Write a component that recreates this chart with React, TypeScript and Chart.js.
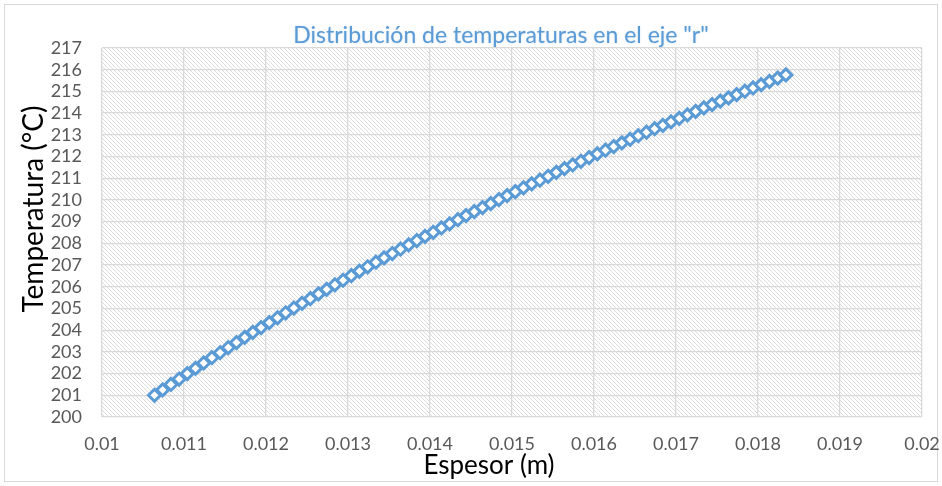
import { useEffect, useRef } from 'react';
import { Chart, registerables } from 'chart.js';

Chart.register(...registerables);

const espesor = [
  0.01064, 0.01074, 0.01084, 0.01094, 0.01104, 0.01114, 0.01124, 0.01134, 0.01144, 0.01154,
  0.01164, 0.01174, 0.01184, 0.01194, 0.01204, 0.01214, 0.01224, 0.01234, 0.01244, 0.01254,
  0.01264, 0.01274, 0.01284, 0.01294, 0.01304, 0.01314, 0.01324, 0.01334, 0.01344, 0.01354,
  0.01364, 0.01374, 0.01384, 0.01394, 0.01404, 0.01414, 0.01424, 0.01434, 0.01444, 0.01454,
  0.01464, 0.01474, 0.01484, 0.01494, 0.01504, 0.01514, 0.01524, 0.01534, 0.01544, 0.01554,
  0.01564, 0.01574, 0.01584, 0.01594, 0.01604, 0.01614, 0.01624, 0.01634, 0.01644, 0.01654,
  0.01664, 0.01674, 0.01684, 0.01694, 0.01704, 0.01714, 0.01724, 0.01734, 0.01744, 0.01754,
  0.01764, 0.01774, 0.01784, 0.01794, 0.01804, 0.01814, 0.01824, 0.01834,
];

const temperatura = [
  201.0, 201.25, 201.5, 201.75, 202.0, 202.24, 202.49, 202.73, 202.96, 203.2,
  203.43, 203.67, 203.9, 204.12, 204.35, 204.57, 204.8, 205.02, 205.24, 205.45,
  205.67, 205.88, 206.09, 206.3, 206.51, 206.72, 206.92, 207.13, 207.33, 207.53,
  207.73, 207.93, 208.13, 208.32, 208.51, 208.71, 208.9, 209.09, 209.28, 209.46,
  209.65, 209.83, 210.02, 210.2, 210.38, 210.56, 210.74, 210.91, 211.09, 211.27,
  211.44, 211.61, 211.78, 211.95, 212.12, 212.29, 212.46, 212.63, 212.79, 212.96,
  213.12, 213.28, 213.44, 213.6, 213.76, 213.92, 214.08, 214.24, 214.39, 214.55,
  214.7, 214.85, 215.01, 215.16, 215.31, 215.46, 215.61, 215.76,
];

const xTicks = [0.01, 0.011, 0.012, 0.013, 0.014, 0.015, 0.016, 0.017, 0.018, 0.019, 0.02];
const xTickLabels = ['0.01', '0.011', '0.012', '0.013', '0.014', '0.015', '0.016', '0.017', '0.018', '0.019', '0.02'];
const yTicks = [200, 201, 202, 203, 204, 205, 206, 207, 208, 209, 210, 211, 212, 213, 214, 215, 216, 217];
const yTickLabels = yTicks.map((v) => String(v));

const chartTitle = 'Distribución de temperaturas en el eje "r"';
const xTitle = 'Espesor (m)';
const yTitle = 'Temperatura (°C)';

const FONT = 'Lato, "Noto Sans", sans-serif';

export default function App() {
  const ref = useRef<HTMLCanvasElement | null>(null);

  useEffect(() => {
    const canvas = ref.current;
    if (!canvas) return;

    const tile = document.createElement('canvas');
    tile.width = 4;
    tile.height = 4;
    const t = tile.getContext('2d')!;
    t.fillStyle = '#ffffff';
    t.fillRect(0, 0, 4, 4);
    t.fillStyle = '#dcdcdc';
    for (let i = 0; i < 4; i++) t.fillRect(i, i, 1, 1);

    const decor = {
      id: 'decor',
      beforeDraw(chart: any) {
        const ctx = chart.ctx as CanvasRenderingContext2D;
        const a = chart.chartArea;
        ctx.save();
        ctx.fillStyle = '#ffffff';
        ctx.fillRect(0, 0, chart.width, chart.height);
        ctx.strokeStyle = '#d9d9d9';
        ctx.lineWidth = 1;
        ctx.strokeRect(4.5, 4.5, chart.width - 9, chart.height - 9);
        const pat = ctx.createPattern(tile, 'repeat');
        if (pat) {
          ctx.fillStyle = pat;
          ctx.fillRect(a.left, a.top, a.right - a.left, a.bottom - a.top);
        }
        ctx.restore();
      },
      afterDraw(chart: any) {
        const ctx = chart.ctx as CanvasRenderingContext2D;
        ctx.save();
        ctx.textAlign = 'center';
        ctx.textBaseline = 'middle';
        ctx.fillStyle = '#5B9BD5';
        ctx.font = `23px ${FONT}`;
        ctx.shadowColor = 'rgba(91,155,213,0.35)';
        ctx.shadowBlur = 2;
        ctx.fillText(chartTitle, 501, 36);
        ctx.shadowBlur = 0;
        ctx.shadowColor = 'transparent';
        ctx.fillStyle = '#000000';
        ctx.font = `26px ${FONT}`;
        ctx.fillText(xTitle, 489, 466);
        ctx.font = `28px ${FONT}`;
        ctx.translate(34, 209);
        ctx.rotate(-Math.PI / 2);
        ctx.fillText(yTitle, 0, 0);
        ctx.restore();
      },
    };

    const chart = new Chart(canvas, {
      type: 'scatter',
      data: {
        datasets: [
          {
            label: 'Temperatura',
            data: espesor.map((x, i) => ({ x, y: temperatura[i] })),
            showLine: false,
            pointStyle: 'rectRot',
            pointRadius: 6,
            pointHoverRadius: 6,
            pointBorderWidth: 3,
            borderColor: '#5B9BD5',
            backgroundColor: '#ffffff',
          },
        ],
      },
      options: {
        responsive: false,
        animation: false,
        devicePixelRatio: 1,
        layout: { padding: { top: 48, right: 20, left: 0, bottom: 0 } },
        plugins: {
          legend: { display: false },
          title: { display: false },
          tooltip: { enabled: false },
        },
        scales: {
          x: {
            type: 'linear',
            min: 0.01,
            max: 0.02,
            afterBuildTicks: (s: any) => {
              s.ticks = xTicks.map((v) => ({ value: v }));
            },
            afterFit: (s: any) => {
              s.height = 69;
              s.paddingLeft = 0;
              s.paddingRight = 0;
            },
            ticks: {
              padding: 16,
              color: '#595959',
              font: { family: FONT, size: 18 },
              maxRotation: 0,
              autoSkip: false,
              callback: (_v: any, i: number) => xTickLabels[i],
            },
            grid: { color: '#d9d9d9', lineWidth: 1.3, drawTicks: false },
            border: { display: false },
          },
          y: {
            type: 'linear',
            min: 200,
            max: 217,
            afterBuildTicks: (s: any) => {
              s.ticks = yTicks.map((v) => ({ value: v }));
            },
            afterFit: (s: any) => {
              s.width = 102;
              s.paddingTop = 0;
              s.paddingBottom = 0;
            },
            ticks: {
              padding: 20,
              color: '#595959',
              font: { family: FONT, size: 18 },
              autoSkip: false,
              callback: (_v: any, i: number) => yTickLabels[i],
            },
            grid: { color: '#d9d9d9', lineWidth: 1.3, drawTicks: false },
            border: { display: false },
          },
        },
      },
      plugins: [decor],
    });

    return () => chart.destroy();
  }, []);

  return (
    <div style={{ position: 'absolute', left: 0, top: 0, width: 942, height: 486 }}>
      <canvas ref={ref} width={942} height={486} style={{ width: 942, height: 486, display: 'block' }} />
    </div>
  );
}
